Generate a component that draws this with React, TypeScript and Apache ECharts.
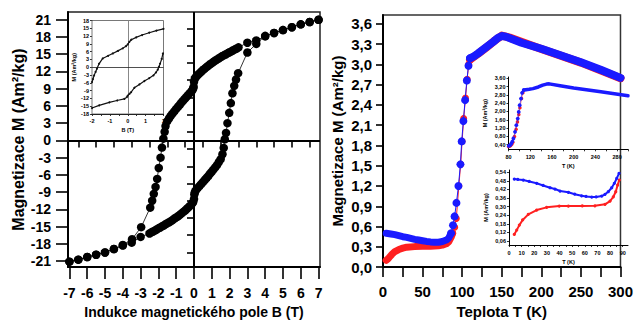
import React, { useEffect, useRef } from "react";
import * as echarts from "echarts";

// ---------- Left panel: hysteresis loop M(B) ----------
const upperB = [7.0, 6.5, 6.0, 5.5, 5.0, 4.5, 4.0, 3.5, 3.0, 2.5, 2.4, 2.3, 2.2, 2.1, 2.0, 1.9, 1.8, 1.7, 1.6, 1.5, 1.4, 1.3, 1.2, 1.1, 1.0, 0.9, 0.8, 0.7, 0.6, 0.5, 0.4, 0.3, 0.2, 0.1, 0.05, 0.0, -0.02, -0.05, -0.1, -0.2, -0.3, -0.4, -0.5, -0.6, -0.7, -0.8, -0.9, -1.0, -1.1, -1.2, -1.3, -1.4, -1.5, -1.6, -1.65, -1.72, -1.8, -1.88, -1.98, -2.07, -2.16, -2.26, -2.35, -2.46, -2.97, -3.48, -4.0, -4.5, -5.0, -5.5, -6.0, -6.5, -7.0];
const upperM = [21.0, 20.6, 20.2, 19.7, 19.2, 18.7, 18.1, 17.4, 17.0, 16.2, 16.0, 15.85, 15.7, 15.5, 15.35, 15.2, 15.0, 14.85, 14.7, 14.5, 14.3, 14.1, 13.9, 13.7, 13.45, 13.25, 13.0, 12.75, 12.5, 12.25, 11.95, 11.65, 11.35, 11.0, 10.8, 10.2, 9.3, 9.0, 8.7, 8.35, 8.0, 7.65, 7.3, 6.95, 6.6, 6.2, 5.85, 5.5, 5.1, 4.7, 4.3, 3.85, 3.35, 2.5, 1.5, 0.3, -1.25, -3.0, -4.8, -6.7, -8.1, -9.3, -10.5, -11.7, -15.1, -17.2, -18.2, -18.9, -19.5, -19.9, -20.3, -20.75, -21.1];
const lowerB = [-7.0, -6.5, -6.0, -5.5, -5.0, -4.5, -4.0, -3.5, -3.0, -2.5, -2.4, -2.3, -2.2, -2.1, -2.0, -1.9, -1.8, -1.7, -1.6, -1.5, -1.4, -1.3, -1.2, -1.1, -1.0, -0.9, -0.8, -0.7, -0.6, -0.5, -0.4, -0.3, -0.2, -0.1, -0.05, 0.0, 0.02, 0.05, 0.1, 0.2, 0.3, 0.4, 0.5, 0.6, 0.7, 0.8, 0.9, 1.0, 1.1, 1.2, 1.3, 1.4, 1.5, 1.6, 1.67, 1.73, 1.8, 1.88, 1.98, 2.07, 2.16, 2.26, 2.36, 2.48, 3.0, 3.5, 4.0, 4.5, 5.0, 5.5, 6.0, 6.5, 7.0];
const lowerM = [-21.1, -20.75, -20.3, -19.9, -19.5, -18.9, -18.3, -17.8, -16.8, -16.2, -16.0, -15.85, -15.7, -15.5, -15.3, -15.15, -14.95, -14.8, -14.6, -14.4, -14.25, -14.05, -13.85, -13.6, -13.4, -13.2, -12.95, -12.7, -12.45, -12.2, -11.9, -11.6, -11.3, -10.95, -10.75, -10.2, -9.4, -9.0, -8.7, -8.3, -7.95, -7.6, -7.25, -6.9, -6.55, -6.2, -5.8, -5.45, -5.05, -4.65, -4.25, -3.75, -3.25, -2.4, -1.3, 0.2, 1.3, 3.0, 4.8, 6.5, 8.2, 9.5, 10.6, 11.7, 15.3, 16.8, 18.2, 18.7, 19.2, 19.7, 20.2, 20.6, 21.0];

const bTicks = [-7, -6, -5, -4, -3, -2, -1, 0, 1, 2, 3, 4, 5, 6, 7];
const bMinor = [-6.5, -5.5, -4.5, -3.5, -2.5, -1.5, -0.5, 0.5, 1.5, 2.5, 3.5, 4.5, 5.5, 6.5];
const mTicks = [-21, -18, -15, -12, -9, -6, -3, 0, 3, 6, 9, 12, 15, 18, 21];
const mMinor = [-19.5, -16.5, -13.5, -10.5, -7.5, -4.5, -1.5, 1.5, 4.5, 7.5, 10.5, 13.5, 16.5, 19.5];

// left inset (±2 T)
const inUpB = [2.0, 1.6, 1.2, 0.8, 0.47, 0.2, 0.09, 0.0, -0.1, -0.28, -0.55, -0.84, -1.1, -1.4, -1.6, -1.72, -1.8, -1.88, -1.95, -2.0];
const inUpM = [14.8, 14.1, 13.3, 12.4, 11.5, 10.6, 9.8, 8.8, 8.1, 7.3, 6.3, 5.3, 4.4, 3.4, 1.4, -0.5, -1.8, -3.1, -4.6, -5.7];
const inLoB = [-2.0, -1.6, -1.03, -0.6, -0.19, -0.05, 0.0, 0.1, 0.19, 0.37, 0.65, 0.93, 1.2, 1.44, 1.58, 1.68, 1.75, 1.81, 1.9, 1.97];
const inLoM = [-15.7, -14.7, -13.5, -12.8, -12.2, -11.5, -10.9, -10.2, -9.6, -7.9, -6.6, -5.3, -4.2, -3.1, -2.0, -0.9, 0.2, 1.4, 3.2, 5.3];
const inBTicks = [-2, -1.5, -1, -0.5, 0, 0.5, 1, 1.5, 2];
const inBLabels = [-2, -1, 0, 1, 2];
const inMTicks = [-18, -15, -12, -9, -6, -3, 0, 3, 6, 9, 12, 15, 18];

// ---------- Right panel: M(T) ----------
const blueLowT = [4, 10, 15, 20, 25, 30, 35, 40, 45, 50, 55, 60, 65, 70, 75, 80, 83, 86];
const blueLowM = [0.5, 0.49, 0.48, 0.465, 0.45, 0.44, 0.425, 0.41, 0.4, 0.39, 0.38, 0.373, 0.368, 0.368, 0.378, 0.4, 0.43, 0.5];
const blueSteepT = [86, 88.4, 90.4, 92.8, 95.3, 97.8, 99.4, 101.5, 103.7, 105.9, 108, 110];
const blueSteepM = [0.5, 0.62, 0.75, 0.95, 1.2, 1.52, 1.86, 2.16, 2.47, 2.76, 2.98, 3.09];
const blueHighT = [110, 115, 120, 130, 140, 145, 150, 155, 175, 200, 225, 250, 275, 300];
const blueHighM = [3.09, 3.12, 3.16, 3.25, 3.34, 3.39, 3.42, 3.41, 3.32, 3.23, 3.13, 3.03, 2.92, 2.8];

const redLowT = [4, 6, 8, 11, 15, 20, 25, 30, 40, 50, 60, 70, 75, 80, 83, 86, 88];
const redLowM = [0.1, 0.12, 0.145, 0.185, 0.23, 0.26, 0.28, 0.295, 0.303, 0.307, 0.31, 0.315, 0.325, 0.345, 0.375, 0.44, 0.5];
const redSteepT = [88, 90.6, 92.6, 95.8, 98.1, 99.9, 101.9, 104.2, 106.3, 108.3, 110];
const redSteepM = [0.5, 0.59, 0.72, 1.2, 1.52, 1.86, 2.2, 2.5, 2.78, 3.0, 3.06];
const redHighT = [110, 120, 130, 140, 150, 160, 200, 250, 300];
const redHighM = [3.07, 3.155, 3.245, 3.34, 3.425, 3.395, 3.228, 3.025, 2.795];

const tLabels = [0, 50, 100, 150, 200, 250, 300];
const tTicks = [0, 25, 50, 75, 100, 125, 150, 175, 200, 225, 250, 275, 300];
const magTicks = [0, 0.3, 0.6, 0.9, 1.2, 1.5, 1.8, 2.1, 2.4, 2.7, 3.0, 3.3, 3.6];

// inset 1 (80–300 K)
const in1BlueT = [80.6, 83, 85, 87, 89, 92, 94.5, 97, 98.8, 100.6, 103, 105, 108];
const in1BlueM = [0.34, 0.38, 0.45, 0.55, 0.7, 1.02, 1.34, 1.66, 1.98, 2.3, 2.62, 2.9, 3.03];
const in1BandT = [108, 112, 118, 125, 135, 143, 150, 155, 175, 200, 250, 300];
const in1BandM = [3.03, 3.05, 3.07, 3.1, 3.18, 3.27, 3.32, 3.33, 3.24, 3.13, 2.95, 2.76];
const in1RedT = [80, 82, 84, 86, 88, 91, 94, 96.5, 99, 101, 104, 106.5];
const in1RedM = [0.32, 0.33, 0.36, 0.42, 0.52, 0.8, 1.15, 1.5, 1.85, 2.18, 2.62, 2.9];
const in1TTicks = [80, 100, 120, 140, 160, 180, 200, 220, 240, 260, 280, 300];
const in1TLabels = [80, 120, 160, 200, 240, 280];
const in1MTicks = [0.4, 0.8, 1.2, 1.6, 2.0, 2.4, 2.8, 3.2, 3.6];

// inset 2 (0–90 K)
const in2BlueT = [4.2, 7, 11.3, 16, 21.9, 27, 32.5, 36.4, 40.4, 47, 52, 57.5, 61, 65.5, 69, 73.4, 76, 78.6, 81.3, 83.4, 85.3, 87.1];
const in2BlueM = [0.493, 0.49, 0.486, 0.476, 0.463, 0.448, 0.432, 0.423, 0.409, 0.4, 0.387, 0.376, 0.371, 0.367, 0.368, 0.374, 0.386, 0.404, 0.432, 0.463, 0.498, 0.533];
const in2RedT = [4.2, 6.1, 8.2, 10.8, 15.3, 21.9, 29.8, 39.8, 47, 58, 68, 76, 80, 82.6, 84.5, 86, 87.3];
const in2RedM = [0.106, 0.136, 0.171, 0.207, 0.246, 0.276, 0.295, 0.304, 0.304, 0.305, 0.306, 0.316, 0.339, 0.369, 0.404, 0.451, 0.486];
const in2TTicks = [0, 5, 10, 15, 20, 25, 30, 35, 40, 45, 50, 55, 60, 65, 70, 75, 80, 85, 90];
const in2TLabels = [0, 10, 20, 30, 40, 50, 60, 70, 80, 90];
const in2MTicks = [0.06, 0.12, 0.18, 0.24, 0.3, 0.36, 0.42, 0.48, 0.54];

const zip = (xs: number[], ys: number[]) => xs.map((x, i) => [x, ys[i]]);
const comma = (d: number) => (v: number) => v.toFixed(d).replace(".", ",");

const FONT = "'Liberation Sans', Arial, Helvetica, sans-serif";
const BLUE = "#1a1aff";
const RED = "#ff2020";

function axis(o: any) {
  const base: any = {
    type: "value",
    gridIndex: o.grid,
    min: o.min,
    max: o.max,
    position: o.position,
    splitLine: { show: false },
    axisLine: o.line === false ? { show: false } : { show: true, onZero: false, lineStyle: { color: "#000", width: o.lineWidth ?? 2 } },
    axisTick: {
      show: true,
      customValues: o.ticks,
      length: o.tickLen,
      lineStyle: { color: "#000", width: o.tickWidth ?? 1.6 },
    },
    axisLabel: o.labels
      ? {
          show: true,
          customValues: o.labels,
          margin: o.margin,
          fontSize: o.fontSize,
          fontWeight: "bold",
          fontFamily: FONT,
          color: "#000",
          formatter: o.formatter,
        }
      : { show: false },
  };
  if (o.name) {
    base.name = o.name;
    base.nameLocation = "middle";
    base.nameGap = o.nameGap;
    base.nameTextStyle = { fontSize: o.nameSize, fontWeight: "bold", fontFamily: FONT, color: "#000" };
  }
  return base;
}

export default function App() {
  const ref = useRef<HTMLDivElement>(null);
  useEffect(() => {
    const chart = echarts.init(ref.current!, null, { renderer: "svg" });
    const option: any = {
      animation: false,
      backgroundColor: "#fff",
      grid: [
        { left: 68, top: 12, width: 252, height: 259, show: true, borderColor: "#222", borderWidth: 1.5, backgroundColor: "transparent" },
        { left: 92, top: 20.5, width: 71.5, height: 93.5, show: true, borderColor: "#555", borderWidth: 0.8, backgroundColor: "#fff", z: 5 },
        { left: 383, top: 15, width: 244, height: 256.7, show: true, borderColor: "#333", borderWidth: 1.5, backgroundColor: "transparent" },
        { left: 508.5, top: 77, width: 119.5, height: 72.3, show: false, z: 5 },
        { left: 509, top: 170, width: 119, height: 75, show: false, z: 5 },
      ],
      xAxis: [
        axis({ grid: 0, min: -7.08, max: 7.08, position: "bottom", ticks: bTicks, tickLen: 12, labels: bTicks, margin: 19, fontSize: 14, name: "Indukce magnetického pole B (T)", nameGap: 32, nameSize: 14 }),
        axis({ grid: 0, min: -7.08, max: 7.08, position: "bottom", line: false, ticks: bMinor, tickLen: 7 }),
        axis({ grid: 1, min: -2, max: 2, position: "bottom", lineWidth: 1, ticks: inBTicks, tickLen: 2, tickWidth: 0.8, labels: inBLabels, margin: 4, fontSize: 5.5, name: "B (T)", nameGap: 13, nameSize: 5.5 }),
        axis({ grid: 2, min: 0, max: 300, position: "bottom", ticks: tTicks, tickLen: 10, labels: tLabels, margin: 17, fontSize: 15, name: "Teplota T (K)", nameGap: 36, nameSize: 15 }),
        axis({ grid: 3, min: 80, max: 300, position: "bottom", lineWidth: 1, ticks: in1TTicks, tickLen: 2, tickWidth: 0.8, labels: in1TLabels, margin: 5, fontSize: 5.5, name: "T (K)", nameGap: 14, nameSize: 5.5 }),
        axis({ grid: 4, min: 0, max: 94.2, position: "bottom", lineWidth: 1, ticks: in2TTicks, tickLen: 2, tickWidth: 0.8, labels: in2TLabels, margin: 5, fontSize: 5.5, name: "T (K)", nameGap: 14, nameSize: 5.5 }),
      ],
      yAxis: [
        axis({ grid: 0, min: -22.05, max: 22.35, position: "left", ticks: mTicks, tickLen: 12, labels: mTicks, margin: 17, fontSize: 14, name: "Magnetizace M (Am²/kg)", nameGap: 38, nameSize: 16 }),
        axis({ grid: 0, min: -22.05, max: 22.35, position: "left", line: false, ticks: mMinor, tickLen: 7 }),
        axis({ grid: 1, min: -18, max: 18, position: "left", lineWidth: 1, ticks: inMTicks, tickLen: 2, tickWidth: 0.8, labels: inMTicks, margin: 3, fontSize: 5.5, name: "M (Am²/kg)", nameGap: 11, nameSize: 5.5 }),
        axis({ grid: 2, min: 0, max: 3.73, position: "left", ticks: magTicks, tickLen: 7, labels: magTicks, margin: 11, fontSize: 15, formatter: comma(1), name: "Magnetizace M (Am²/kg)", nameGap: 38, nameSize: 15 }),
        axis({ grid: 3, min: 0.18, max: 3.66, position: "left", lineWidth: 1, ticks: in1MTicks, tickLen: 2, tickWidth: 0.8, labels: in1MTicks, margin: 3, fontSize: 5.5, formatter: comma(2), name: "M (Am²/kg)", nameGap: 21, nameSize: 5.5 }),
        axis({ grid: 4, min: 0.032, max: 0.556, position: "left", lineWidth: 1, ticks: in2MTicks, tickLen: 2, tickWidth: 0.8, labels: in2MTicks, margin: 3, fontSize: 5.5, formatter: comma(2), name: "M (Am²/kg)", nameGap: 20, nameSize: 5.5 }),
      ],
      series: [
        {
          type: "line", xAxisIndex: 0, yAxisIndex: 0, data: zip(upperB, upperM),
          symbol: "circle", symbolSize: 8.5, showAllSymbol: true,
          itemStyle: { color: "#000" }, lineStyle: { color: "#000", width: 0.8 }, z: 3,
          markLine: {
            silent: true, symbol: ["none", "none"], label: { show: false },
            lineStyle: { color: "#000", width: 2, type: "solid" },
            data: [{ xAxis: 0 }, { yAxis: 0 }],
          },
        },
        {
          type: "line", xAxisIndex: 0, yAxisIndex: 0, data: zip(lowerB, lowerM),
          symbol: "circle", symbolSize: 8.5, showAllSymbol: true,
          itemStyle: { color: "#000" }, lineStyle: { color: "#000", width: 0.8 }, z: 3,
        },
        {
          type: "line", xAxisIndex: 2, yAxisIndex: 2, data: zip(inUpB, inUpM),
          symbol: "circle", symbolSize: 2, showAllSymbol: true,
          itemStyle: { color: "#111" }, lineStyle: { color: "#111", width: 1.2 }, z: 8,
          markLine: {
            silent: true, symbol: ["none", "none"], label: { show: false },
            data: [
              { xAxis: 0, lineStyle: { color: "#888", width: 1, type: "solid" } },
              { yAxis: 0, lineStyle: { color: "#222", width: 0.8, type: "solid" } },
            ],
          },
        },
        {
          type: "line", xAxisIndex: 2, yAxisIndex: 2, data: zip(inLoB, inLoM),
          symbol: "circle", symbolSize: 2, showAllSymbol: true,
          itemStyle: { color: "#111" }, lineStyle: { color: "#111", width: 1.2 }, z: 8,
        },
        // main right: red
        { type: "line", xAxisIndex: 3, yAxisIndex: 3, data: zip(redLowT, redLowM), showSymbol: false, lineStyle: { color: RED, width: 7, cap: "round", join: "round" }, z: 3 },
        { type: "line", xAxisIndex: 3, yAxisIndex: 3, data: zip(redSteepT, redSteepM), symbol: "circle", symbolSize: 7, showAllSymbol: true, itemStyle: { color: RED }, lineStyle: { color: RED, width: 1 }, z: 3 },
        { type: "line", xAxisIndex: 3, yAxisIndex: 3, data: zip(redHighT, redHighM), showSymbol: false, lineStyle: { color: RED, width: 8, cap: "round", join: "round" }, z: 3 },
        // main right: blue
        { type: "line", xAxisIndex: 3, yAxisIndex: 3, data: zip(blueLowT, blueLowM), showSymbol: false, lineStyle: { color: BLUE, width: 7, cap: "round", join: "round" }, z: 4 },
        { type: "line", xAxisIndex: 3, yAxisIndex: 3, data: zip(blueSteepT, blueSteepM), symbol: "circle", symbolSize: 8, showAllSymbol: true, itemStyle: { color: BLUE }, lineStyle: { color: BLUE, width: 1 }, z: 4 },
        { type: "line", xAxisIndex: 3, yAxisIndex: 3, data: zip(blueHighT, blueHighM), showSymbol: false, lineStyle: { color: BLUE, width: 8, cap: "round", join: "round" }, z: 4 },
        // inset 1
        { type: "line", xAxisIndex: 4, yAxisIndex: 4, data: zip(in1RedT, in1RedM), symbol: "circle", symbolSize: 3.5, showAllSymbol: true, itemStyle: { color: RED }, lineStyle: { color: RED, width: 0.6 }, z: 8 },
        { type: "line", xAxisIndex: 4, yAxisIndex: 4, data: zip(in1BlueT, in1BlueM), symbol: "circle", symbolSize: 3.8, showAllSymbol: true, itemStyle: { color: BLUE }, lineStyle: { color: BLUE, width: 0.6 }, z: 9 },
        { type: "line", xAxisIndex: 4, yAxisIndex: 4, data: zip(in1BandT, in1BandM), showSymbol: false, lineStyle: { color: BLUE, width: 3.5, cap: "round", join: "round" }, z: 9 },
        // inset 2
        { type: "line", xAxisIndex: 5, yAxisIndex: 5, data: zip(in2RedT, in2RedM), symbol: "circle", symbolSize: 3.2, showAllSymbol: true, itemStyle: { color: RED }, lineStyle: { color: RED, width: 2 }, z: 8 },
        { type: "line", xAxisIndex: 5, yAxisIndex: 5, data: zip(in2BlueT, in2BlueM), symbol: "circle", symbolSize: 3.2, showAllSymbol: true, itemStyle: { color: BLUE }, lineStyle: { color: BLUE, width: 2 }, z: 8 },
      ],
    };
    chart.setOption(option);
    return () => chart.dispose();
  }, []);
  return <div ref={ref} style={{ position: "absolute", left: 0, top: 0, width: 636, height: 324 }} />;
}
